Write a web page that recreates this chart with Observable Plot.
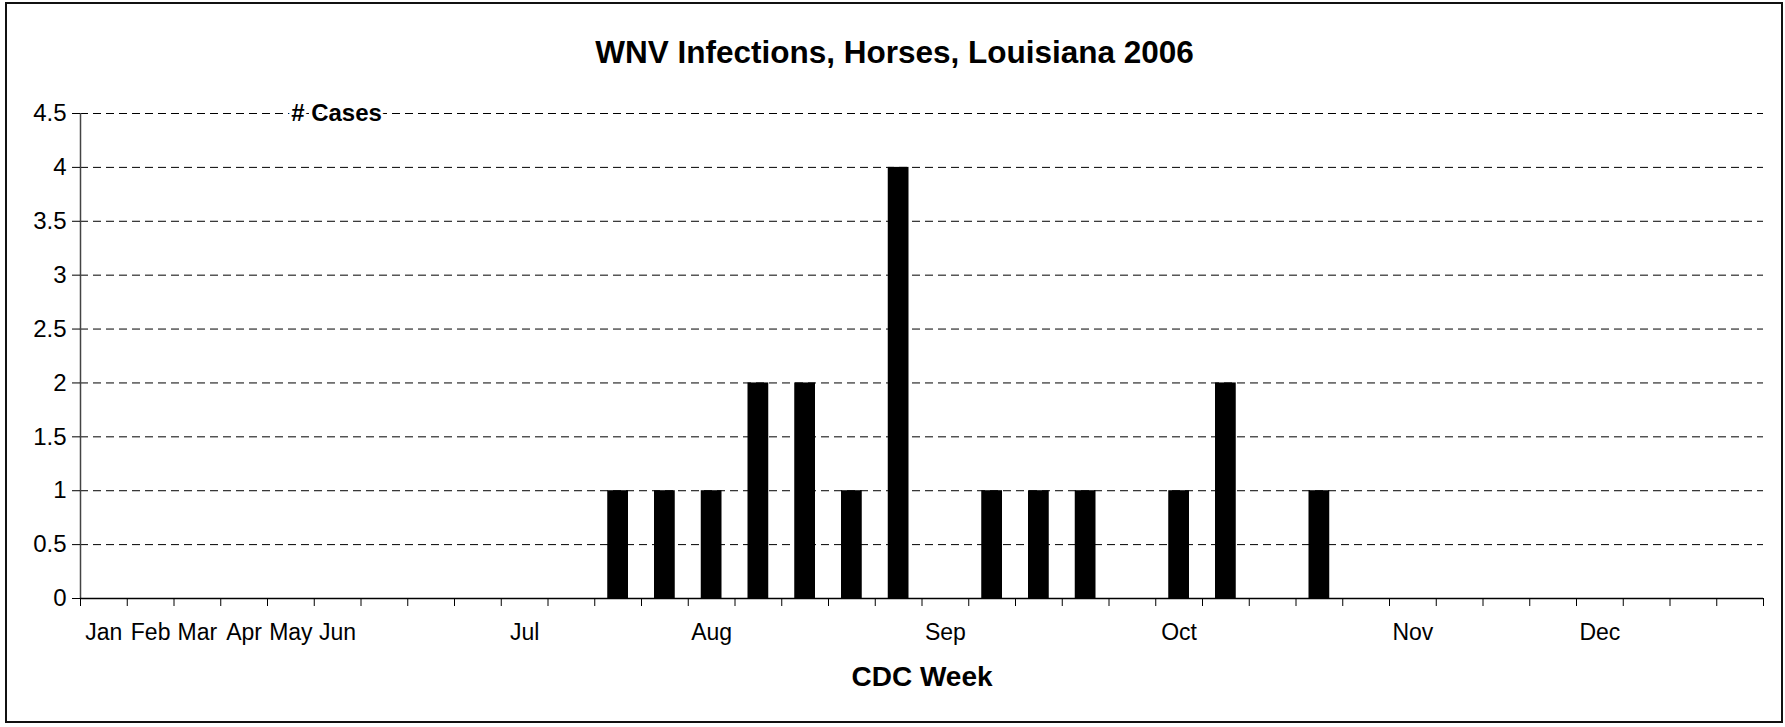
<!DOCTYPE html>
<html>
<head>
<meta charset="utf-8">
<script src="https://cdn.jsdelivr.net/npm/d3@7"></script>
<script src="https://cdn.jsdelivr.net/npm/@observablehq/plot@0.6"></script>
<style>
  body { margin: 0; background: #fff; }
  #wrap { position: relative; width: 1785px; height: 727px; font-family: "Liberation Sans", Arial, sans-serif; }
  #title { position: absolute; left: 2px; top: 32px; width: 1785px; line-height: 40px; text-align: center;
           font-weight: bold; font-size: 31.5px; color: #000; }
  #chart { position: absolute; left: 0; top: 80px; }
  #border { position: absolute; left: 5px; top: 2px; width: 1778px; height: 721px; box-sizing: border-box;
            border: 2px solid #111; pointer-events: none; }
</style>
</head>
<body>
<div id="wrap">
  <div id="chart"></div>
  <div id="title">WNV Infections, Horses, Louisiana 2006</div>
  <div id="border"></div>
</div>
<script>
// Category labels along the x axis (one per CDC-week slot, 36 slots)
const weekLabels = ["Jan","Feb","Mar","Apr","May","Jun","","","","Jul","","","","Aug","","","","","Sep","","","","","Oct","","","","","Nov","","","","Dec","","",""];
// Number of cases per slot
const cases = [0,0,0,0,0,0,0,0,0,0,0,1,1,1,2,2,1,4,0,1,1,1,0,1,2,0,1,0,0,0,0,0,0,0,0,0];
// Y tick values
const yTicks = [0,0.5,1,1.5,2,2.5,3,3.5,4,4.5];
const titleText = "WNV Infections, Horses, Louisiana 2006";
const xTitle = "CDC Week";
const yTitle = "# Cases";

const table = cases.map((c, i) => ({slot: i, next: i + 1, cases: c, label: weekLabels[i]}));
const labelTicks = table.filter(d => d.label !== "").map(d => d.slot + 0.5);
const labelOf = new Map(table.map(d => [d.slot + 0.5, d.label]));

const chart = Plot.plot({
  width: 1785,
  height: 647,
  marginLeft: 80,
  marginRight: 22,
  marginTop: 33,
  marginBottom: 129,
  style: {fontFamily: "'Liberation Sans', Arial, sans-serif", fontSize: "23px", color: "#000", background: "transparent", overflow: "visible"},
  x: {domain: [0, weekLabels.length]},
  y: {domain: [0, 4.5]},
  marks: [
    Plot.gridY(yTicks.filter(d => d > 0), {stroke: "#000", strokeOpacity: 1, strokeWidth: 1, strokeDasharray: "8,5"}),
    Plot.rectY(table.filter(d => d.cases > 0), {x1: "slot", x2: "next", y: "cases", insetLeft: 13, insetRight: 13, fill: "#000"}),
    Plot.ruleX([0], {stroke: "#444", strokeWidth: 1.5}),
    Plot.ruleY([0], {stroke: "#000", strokeWidth: 1.5}),
    Plot.axisY({ticks: yTicks, tickSize: 8, tickPadding: 6, tickFormat: d => String(d), label: null, fontSize: 24}),
    Plot.axisX({ticks: d3.range(0, weekLabels.length + 1), tickSize: 8, tickFormat: () => "", label: null}),
    Plot.axisX({ticks: labelTicks, tickSize: 0, tickPadding: 25, tickFormat: d => labelOf.get(d), label: null, fontSize: 23}),
    Plot.text([xTitle], {frameAnchor: "bottom", dy: 79, lineAnchor: "middle", fontWeight: "bold", fontSize: 28, fill: "#000"}),
    Plot.text([yTitle], {frameAnchor: "top-left", dx: 256, textAnchor: "middle", lineAnchor: "middle", fontWeight: "bold", fontSize: 24, fill: "#000", stroke: "#fff", strokeWidth: 6, paintOrder: "stroke"})
  ]
});
document.getElementById("chart").appendChild(chart);
</script>
</body>
</html>
